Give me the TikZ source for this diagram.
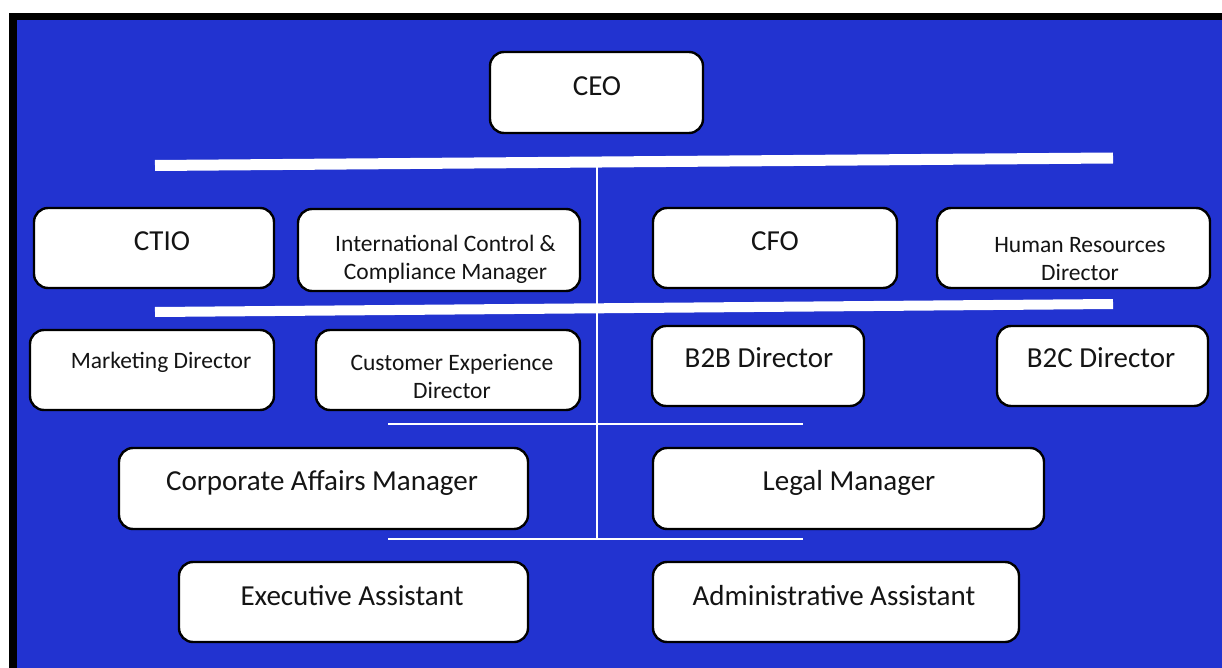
\documentclass[tikz,border=0pt]{standalone}
\usepackage{fontspec}
\setmainfont{Carlito}

\definecolor{chartblue}{RGB}{34,51,208}

\tikzset{
    post/.style = {draw=black, line width=2.4pt, rounded corners=14pt, fill=white, inner sep=0pt},
    title/.style = {anchor=base, inner sep=0pt, text=black!92, font=\fontsize{29}{35}\selectfont},
    small/.style = {anchor=base, inner sep=0pt, align=center, text=black!92, font=\fontsize{23.5}{28.5}\selectfont},
    bar/.style = {white, line width=#1, line cap=butt},
}

\begin{document}
\begin{tikzpicture}[x=1pt, y=-1pt]
    \useasboundingbox (0,0) rectangle (1222,668);
    % frame and blue background
    \fill[black] (9,13) rectangle (1222,668);
    \fill[chartblue] (17,20) rectangle (1222,668);

    % level bars and the spine
    \coordinate (b1l) at (155,165.5);
    \coordinate (b1r) at (1113,158);
    \coordinate (b2l) at (155,312);
    \coordinate (b2r) at (1113,304);
    \coordinate (b3l) at (388,424);
    \coordinate (b3r) at (803,424);
    \coordinate (b4l) at (388,539);
    \coordinate (b4r) at (803,539);
    \coordinate (top) at (597,162);
    \coordinate (bottom) at (597,539);
    \draw[bar=11pt] (b1l) -- (b1r);
    \draw[bar=10pt] (b2l) -- (b2r);
    \draw[bar=2.5pt] (b3l) -- (b3r);
    \draw[bar=2.5pt] (b4l) -- (b4r);
    \draw[bar=1.2pt] (top) -- (bottom);

    % boxes
    \node[post, minimum width=213, minimum height=81] (ceo) at (596.5,92.5) {};
    \node[post, minimum width=240, minimum height=80] (ctio) at (154,248) {};
    \node[post, minimum width=282, minimum height=82] (icc) at (439,250) {};
    \node[post, minimum width=244, minimum height=80] (cfo) at (775,248) {};
    \node[post, minimum width=273, minimum height=80] (hrd) at (1073.5,248) {};
    \node[post, minimum width=244, minimum height=80] (mkt) at (152,370) {};
    \node[post, minimum width=264, minimum height=80] (cxd) at (448,370) {};
    \node[post, minimum width=212, minimum height=80] (btb) at (758,366) {};
    \node[post, minimum width=211, minimum height=80] (btc) at (1102.5,366) {};
    \node[post, minimum width=409, minimum height=81] (cam) at (323.5,488.5) {};
    \node[post, minimum width=391, minimum height=81] (legal) at (848.5,488.5) {};
    \node[post, minimum width=349, minimum height=80] (ea) at (353.5,602) {};
    \node[post, minimum width=366, minimum height=80] (aa) at (836,602) {};

    % titles (two-line ones sit on the baseline of their last line)
    \node[title] (ceo-t) at (597,96) {CEO};
    \node[title] (ctio-t) at (162,251) {CTIO};
    \node[small] (icc-t) at (445.5,279.6) {International Control \&\\Compliance Manager};
    \node[title] (cfo-t) at (775,251) {CFO};
    \node[small] (hrd-t) at (1080,280.6) {Human Resources\\Director};
    \node[small] (mkt-t) at (161,368.6) {Marketing Director};
    \node[small] (cxd-t) at (452,398.6) {Customer Experience\\Director};
    \node[title] (btb-t) at (759,367) {B2B Director};
    \node[title] (btc-t) at (1101,367) {B2C Director};
    \node[title] (cam-t) at (322,490) {Corporate Affairs Manager};
    \node[title] (legal-t) at (849,490) {Legal Manager};
    \node[title] (ea-t) at (352,605) {Executive Assistant};
    \node[title] (aa-t) at (834,605) {Administrative Assistant};
\end{tikzpicture}
\end{document}
